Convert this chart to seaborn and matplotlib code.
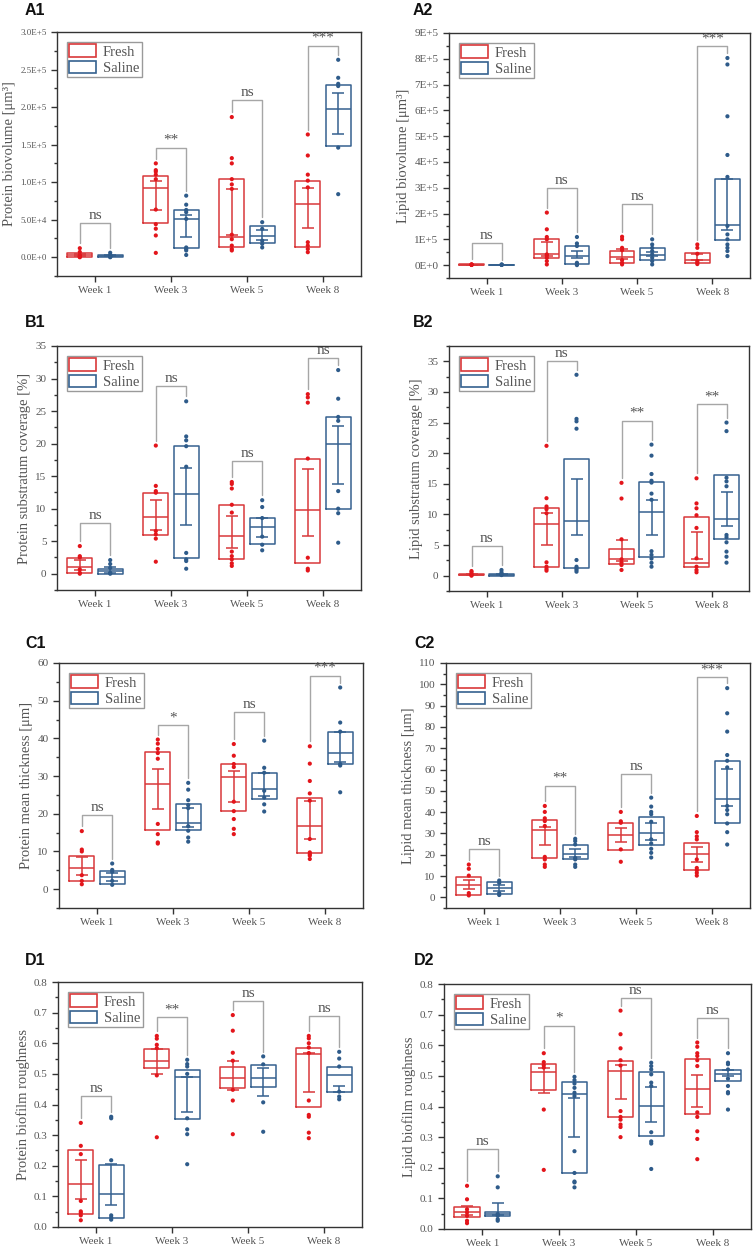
import numpy as np
import pandas as pd
import seaborn as sns
import matplotlib.pyplot as plt
from matplotlib.patches import Patch
from matplotlib.ticker import AutoMinorLocator

weeks = ["Week 1", "Week 3", "Week 5", "Week 8"]
groups = ["Fresh", "Saline"]

# box stats per week: [q1, median, q3, bar_low, bar_high]
# ---- A1 protein biovolume
a1_fresh = [[12000, 7000, 3000, 1200, 500, 0],
            [125000, 116000, 114000, 110000, 104000, 63500, 44000, 38000, 29000, 5800],
            [186700, 132000, 125000, 104000, 97000, 91000, 30000, 24000, 15500, 11000, 9000],
            [163500, 135500, 110000, 102000, 93000, 20000, 15500, 11000, 6700]]
a1_saline = [[6000, 3000, 2000, 1000, 500, 0],
             [82000, 70000, 63000, 60000, 51000, 13000, 11000, 9000, 3000],
             [46700, 37800, 22000, 17800, 13000],
             [263000, 239000, 231000, 228000, 146000, 84000]]
a1_fresh_box = [[900, 3000, 5800, 1500, 4500], [45000, 92000, 108000, 63500, 102000],
                [13300, 26700, 104000, 30000, 91000], [13300, 71000, 102000, 39000, 92400]]
a1_saline_box = [[900, 1800, 3100, 1000, 2500], [12000, 51000, 62700, 27500, 56000],
                 [19500, 28900, 41800, 23600, 36400], [148000, 197800, 230000, 163500, 218600]]
a1_sig = ["ns", "**", "ns", "***"]
a1_bar = [45300, 145800, 208900, 282000]
a1_ticks = [0, 50000, 100000, 150000, 200000, 250000, 300000]
a1_ticklabels = ["0.0E+0", "5.0E+4", "1.0E+5", "1.5E+5", "2.0E+5", "2.5E+5", "3.0E+5"]

# ---- A2 lipid biovolume
a2_fresh = [[3000, 2000, 1500, 1000, 500],
            [203600, 138800, 109000, 100000, 41500, 37600, 28500, 15600, 2600],
            [110000, 100000, 67000, 58000, 19500, 9000, 2600],
            [80000, 67000, 44000, 15600, 9000, 4000]]
a2_saline = [[2500, 1500, 1000, 500],
             [109000, 84000, 74000, 9000, 2600, 0],
             [100000, 80000, 67000, 54500, 41500, 28500, 15600, 2600],
             [803000, 778000, 577000, 427000, 342000, 152000, 119000, 100000, 80000, 67000, 54500, 35000]]
a2_fresh_box = [[500, 1500, 2500, 1000, 2000], [28500, 44000, 102500, 35000, 89500],
                [7800, 31000, 54500, 22000, 61000], [10000, 19500, 48000, 20000, 41500]]
a2_saline_box = [[300, 1000, 1800, 700, 1500], [5000, 36300, 74000, 26000, 55800],
                 [18000, 39000, 65000, 33700, 52000], [96000, 154000, 332000, 135000, 332000]]
a2_sig = ["ns", "ns", "ns", "***"]
a2_bar = [85600, 298000, 238600, 848000]
a2_ticks = [0, 100000, 200000, 300000, 400000, 500000, 600000, 700000, 800000, 900000]
a2_ticklabels = ["0E+0", "1E+5", "2E+5", "3E+5", "4E+5", "5E+5", "6E+5", "7E+5", "8E+5", "9E+5"]

# ---- B1 protein coverage
b1_fresh = [[4.25, 2.7, 2.5, 0.67, 0.15, 0.0],
            [19.7, 13.5, 12.7, 12.45, 6.56, 6.05, 5.4, 1.85],
            [14.1, 13.8, 13.1, 10.6, 9.4, 3.4, 2.7, 2.2, 1.6, 1.2],
            [27.6, 27.1, 26.3, 17.7, 2.46, 0.77, 0.5]]
b1_saline = [[2.1, 1.5, 0.9, 0.15, 0.0],
             [26.5, 21.1, 20.5, 19.6, 16.45, 3.2, 2.2, 1.95, 0.77],
             [11.3, 10.25, 8.56, 5.7, 4.46, 3.6],
             [31.3, 26.9, 24.1, 23.5, 12.7, 10.0, 9.3, 4.77]]
b1_fresh_box = [[0.05, 0.97, 2.4, 0.5, 2.1], [6.0, 8.76, 12.45, 6.77, 11.4],
                [2.2, 5.74, 10.56, 3.95, 8.87], [1.6, 9.74, 17.7, 5.74, 16.15]]
b1_saline_box = [[0.0, 0.36, 0.77, 0.15, 1.07], [2.36, 12.3, 19.7, 7.5, 16.3],
                 [4.5, 7.2, 8.56, 5.7, 8.56], [10.0, 20.0, 24.1, 13.8, 22.7]]
b1_sig = ["ns", "ns", "ns", "ns"]
b1_bar = [7.84, 28.9, 17.3, 33.2]

# ---- B2 lipid coverage
b2_fresh = [[0.76, 0.55, 0.27, 0.1, 0.0],
            [21.2, 12.65, 11.3, 10.85, 10.2, 2.18, 1.47, 1.1, 0.82],
            [15.16, 12.6, 5.94, 2.67, 2.13, 1.74, 0.93],
            [15.9, 11.8, 11.0, 9.87, 7.8, 2.83, 1.47, 0.93, 0.55]]
b2_saline = [[0.93, 0.55, 0.3, 0.1],
             [32.8, 25.6, 25.2, 24.0, 2.56, 1.47, 1.2, 0.93, 0.65],
             [21.4, 19.6, 16.6, 15.5, 15.2, 13.4, 12.4, 4.0, 3.4, 2.8, 2.1, 1.47],
             [25.0, 23.6, 16.0, 15.4, 14.6, 6.65, 6.27, 5.45, 3.93, 3.1, 2.13]]
b2_fresh_box = [[0.05, 0.16, 0.33, 0.1, 0.25], [1.47, 8.4, 11.1, 4.96, 10.2],
                [1.85, 2.67, 4.42, 2.4, 5.83], [1.36, 2.0, 9.65, 2.78, 7.1]]
b2_saline_box = [[0.03, 0.12, 0.25, 0.08, 0.2], [1.3, 8.9, 19.0, 6.6, 15.76],
                 [3.1, 10.36, 15.3, 6.6, 12.4], [6.05, 9.2, 16.36, 8.1, 13.6]]
b2_sig = ["ns", "ns", "**", "**"]
b2_bar = [4.85, 35.1, 25.3, 28.0]

# ---- C1 protein thickness
c1_fresh = [[15.4, 10.5, 10.0, 3.7, 2.2, 1.3],
            [39.7, 38.6, 37.2, 36.1, 34.6, 17.3, 14.6, 12.4, 12.1],
            [38.5, 35.4, 33.2, 32.4, 23.2, 20.7, 18.6, 16.0, 14.6],
            [37.9, 33.3, 28.7, 25.4, 23.5, 13.3, 9.75, 9.3, 8.9, 8.0]]
c1_saline = [[6.8, 5.1, 4.6, 2.2, 1.15],
             [28.2, 26.4, 23.6, 22.3, 21.5, 16.7, 15.5, 13.7, 12.6],
             [39.4, 32.2, 30.9, 26.1, 24.3, 22.5, 20.6],
             [53.5, 44.2, 41.8, 33.2, 32.8, 25.7]]
c1_fresh_box = [[2.1, 5.5, 8.9, 3.7, 8.5], [15.8, 27.9, 36.3, 21.2, 31.8],
                [20.7, 29.8, 33.1, 23.2, 31.3], [9.6, 16.8, 24.1, 13.4, 23.5]]
c1_saline_box = [[1.5, 3.2, 4.9, 2.1, 4.4], [15.8, 17.5, 22.5, 16.5, 21.5],
                 [23.9, 26.7, 30.9, 24.7, 30.8], [33.2, 36.1, 41.7, 33.7, 41.6]]
c1_sig = ["ns", "*", "ns", "***"]
c1_bar = [19.8, 43.5, 47.1, 56.6]

# ---- C2 lipid thickness
c2_fresh = [[15.4, 13.4, 10.2, 2.0, 0.9],
            [42.9, 40.1, 37.1, 35.8, 33.5, 19.0, 17.8, 15.4, 14.3],
            [40.1, 35.7, 35.0, 22.5, 16.7],
            [38.2, 30.6, 28.6, 27.2, 17.8, 13.8, 12.7, 11.5, 10.2]]
c2_saline = [[7.9, 6.8, 2.0, 1.1],
             [27.5, 26.4, 24.8, 18.5, 17.8, 15.4, 14.3],
             [46.8, 42.6, 40.1, 39.0, 35.5, 27.2, 25.3, 22.8, 20.9, 18.7],
             [98.2, 86.4, 77.8, 66.8, 64.1, 61.0, 42.9, 41.0, 39.0, 34.7, 30.6, 24.8]]
c2_fresh_box = [[1.1, 6.0, 9.4, 3.9, 8.2], [18.4, 31.7, 36.5, 24.4, 33.2],
                [22.3, 29.5, 35.0, 25.9, 32.4], [13.0, 20.4, 25.5, 16.5, 23.7]]
c2_saline_box = [[1.6, 4.2, 7.1, 3.1, 5.7], [18.2, 20.4, 24.8, 18.9, 22.8],
                 [24.5, 30.0, 37.7, 26.9, 34.7], [34.7, 46.2, 64.1, 43.1, 60.2]]
c2_sig = ["ns", "**", "ns", "***"]
c2_bar = [22.6, 52.5, 57.7, 103.4]

# ---- D1 protein roughness
d1_fresh = [[0.34, 0.265, 0.238, 0.085, 0.051, 0.046, 0.038, 0.022],
            [0.624, 0.615, 0.595, 0.584, 0.495, 0.293],
            [0.692, 0.641, 0.569, 0.543, 0.448, 0.413, 0.303],
            [0.624, 0.616, 0.6, 0.586, 0.568, 0.413, 0.366, 0.36, 0.308, 0.29]]
d1_saline = [[0.36, 0.355, 0.218, 0.038, 0.031, 0.024],
             [0.546, 0.532, 0.524, 0.5, 0.355, 0.319, 0.303, 0.205],
             [0.557, 0.531, 0.407, 0.311],
             [0.572, 0.55, 0.524, 0.442, 0.426, 0.417]]
d1_fresh_box = [[0.043, 0.14, 0.25, 0.09, 0.22], [0.519, 0.543, 0.582, 0.499, 0.582],
                [0.455, 0.485, 0.524, 0.447, 0.543], [0.391, 0.564, 0.586, 0.442, 0.568]]
d1_saline_box = [[0.031, 0.107, 0.204, 0.071, 0.207], [0.352, 0.49, 0.512, 0.376, 0.491],
                 [0.456, 0.485, 0.528, 0.428, 0.519], [0.441, 0.495, 0.524, 0.442, 0.462]]
d1_sig = ["ns", "**", "ns", "ns"]
d1_bar = [0.427, 0.685, 0.739, 0.69]

# ---- D2 lipid roughness
d2_fresh = [[0.141, 0.097, 0.064, 0.054, 0.043, 0.027, 0.019],
            [0.574, 0.545, 0.535, 0.527, 0.39, 0.193],
            [0.713, 0.636, 0.59, 0.551, 0.534, 0.385, 0.366, 0.357, 0.341, 0.333, 0.3],
            [0.609, 0.595, 0.574, 0.565, 0.551, 0.532, 0.381, 0.366, 0.319, 0.294, 0.228]]
d2_saline = [[0.172, 0.136, 0.049, 0.043, 0.032, 0.027],
             [0.497, 0.486, 0.475, 0.461, 0.445, 0.434, 0.254, 0.183, 0.155, 0.152, 0.136],
             [0.543, 0.532, 0.521, 0.505, 0.478, 0.467, 0.316, 0.286, 0.279, 0.196],
             [0.574, 0.543, 0.538, 0.521, 0.491, 0.467, 0.447, 0.443, 0.39]]
d2_fresh_box = [[0.038, 0.057, 0.071, 0.046, 0.075], [0.454, 0.513, 0.54, 0.445, 0.527],
                [0.365, 0.515, 0.549, 0.425, 0.534], [0.377, 0.456, 0.556, 0.398, 0.502]]
d2_saline_box = [[0.044, 0.049, 0.057, 0.046, 0.084], [0.183, 0.44, 0.479, 0.3, 0.428],
                 [0.303, 0.401, 0.513, 0.35, 0.463], [0.482, 0.505, 0.52, 0.5, 0.519]]
d2_sig = ["ns", "*", "ns", "ns"]
d2_bar = [0.261, 0.663, 0.753, 0.69]

sns.set_style("ticks")
plt.rcParams["font.family"] = ["Liberation Serif", "DejaVu Serif"]
plt.rcParams["axes.linewidth"] = 1.0

box_colors = {"Fresh": "#d9383a", "Saline": "#35618f"}
point_colors = {"Fresh": "#e3151b", "Saline": "#2e5b8a"}
gray_txt = "#555555"

W, H = 756, 1250
fig = plt.figure(figsize=(W / 100, H / 100), dpi=100)


def px_axes(left, top, right, bottom):
    return fig.add_axes([left / W, 1 - bottom / H, (right - left) / W, (bottom - top) / H])


def draw_panel(ax, fresh, saline, fresh_box, saline_box, sig, bar, ylim, ticks, ticklabels,
               ylabel, ytick_size):
    rows = []
    for g, series in zip(groups, [fresh, saline]):
        for wk, vals in zip(weeks, series):
            for v in vals:
                rows.append({"week": wk, "group": g, "value": v})
    df = pd.DataFrame(rows)

    sns.stripplot(data=df, x="week", y="value", hue="group", order=weeks, hue_order=groups,
                  dodge=True, jitter=False, palette=point_colors, size=3.0, linewidth=0,
                  legend=False, ax=ax, zorder=4)

    for g, boxes, off in [("Fresh", fresh_box, -0.2), ("Saline", saline_box, 0.2)]:
        col = box_colors[g]
        pos = [i + off for i in range(len(weeks))]
        stats = [dict(q1=b[0], med=b[1], q3=b[2], whislo=b[0], whishi=b[2], fliers=[]) for b in boxes]
        ax.bxp(stats, positions=pos, widths=0.33, showcaps=False, showfliers=False,
               boxprops=dict(color=col, lw=1.1), medianprops=dict(color=col, lw=1.1),
               whiskerprops=dict(lw=0), manage_ticks=False, zorder=3)
        lo = np.array([b[3] for b in boxes])
        hi = np.array([b[4] for b in boxes])
        ax.errorbar(pos, (lo + hi) / 2, yerr=(hi - lo) / 2, fmt="none", ecolor=col,
                    elinewidth=1.1, capsize=4.3, capthick=1.1, zorder=3)

    span = ylim[1] - ylim[0]
    for i in range(len(weeks)):
        f_top = max(fresh[i]) + 0.02 * span
        s_top = max(saline[i]) + 0.02 * span
        ax.plot([i - 0.2, i - 0.2, i + 0.2, i + 0.2], [f_top, bar[i], bar[i], s_top],
                color="#a6a6a6", lw=1.0, zorder=2)
        ax.text(i, bar[i] + 0.004 * span, sig[i], ha="center", va="bottom",
                fontsize=11, color=gray_txt)

    ax.set_xlim(-0.5, 3.5)
    ax.set_ylim(*ylim)
    if ticklabels is not None:
        ax.set_yticks(ticks, ticklabels)
    else:
        ax.set_yticks(ticks)
    ax.yaxis.set_minor_locator(AutoMinorLocator(2))
    ax.tick_params(axis="both", which="major", direction="out", length=4, width=1,
                   labelsize=8, labelcolor=gray_txt, color="#333333")
    ax.tick_params(axis="y", labelsize=ytick_size)
    ax.tick_params(axis="y", which="minor", direction="out", length=2.5, width=1, color="#333333")
    ax.set_xlabel("")
    ax.set_ylabel(ylabel, fontsize=10.5, color=gray_txt, labelpad=3)
    for s in ax.spines.values():
        s.set_visible(True)
        s.set_color("#333333")

    handles = [Patch(facecolor="none", edgecolor=box_colors[g], lw=1.2, label=g) for g in groups]
    leg = ax.legend(handles=handles, loc="upper left", fontsize=10.5, frameon=True, fancybox=False,
                    edgecolor="#9a9a9a", framealpha=1, handlelength=1.8, handleheight=0.95,
                    labelspacing=0.15, borderpad=0.15, handletextpad=0.5, borderaxespad=0.7)
    leg.get_frame().set_linewidth(1.0)
    for t in leg.get_texts():
        t.set_color(gray_txt)


panels = [
    ("A1", (25, 15), (57, 32, 361, 276), a1_fresh, a1_saline, a1_fresh_box, a1_saline_box, a1_sig, a1_bar,
     (-25000, 300000), a1_ticks, a1_ticklabels, "Protein biovolume [μm³]", 6.5),
    ("A2", (413, 15), (449, 33, 750, 278), a2_fresh, a2_saline, a2_fresh_box, a2_saline_box, a2_sig, a2_bar,
     (-50000, 900000), a2_ticks, a2_ticklabels, "Lipid biovolume [μm³]", 8),
    ("B1", (25, 327), (57, 346, 361, 590), b1_fresh, b1_saline, b1_fresh_box, b1_saline_box, b1_sig, b1_bar,
     (-2.5, 35), list(range(0, 36, 5)), None, "Protein substratum coverage [%]", 8),
    ("B2", (413, 327), (449, 346, 749, 591), b2_fresh, b2_saline, b2_fresh_box, b2_saline_box, b2_sig, b2_bar,
     (-2.5, 37.5), list(range(0, 36, 5)), None, "Lipid substratum coverage [%]", 8),
    ("C1", (25, 648), (59, 663, 363, 908), c1_fresh, c1_saline, c1_fresh_box, c1_saline_box, c1_sig, c1_bar,
     (-5, 60), list(range(0, 61, 10)), None, "Protein mean thickness [μm]", 8),
    ("C2", (414, 648), (446, 663, 750, 908), c2_fresh, c2_saline, c2_fresh_box, c2_saline_box, c2_sig, c2_bar,
     (-5, 110), list(range(0, 111, 10)), None, "Lipid mean thickness [μm]", 8),
    ("D1", (25, 965), (58, 982, 362, 1227), d1_fresh, d1_saline, d1_fresh_box, d1_saline_box, d1_sig, d1_bar,
     (0, 0.8), [0, 0.1, 0.2, 0.3, 0.4, 0.5, 0.6, 0.7, 0.8], None, "Protein biofilm roughness", 8),
    ("D2", (414, 965), (444, 984, 751, 1229), d2_fresh, d2_saline, d2_fresh_box, d2_saline_box, d2_sig, d2_bar,
     (0, 0.8), [0, 0.1, 0.2, 0.3, 0.4, 0.5, 0.6, 0.7, 0.8], None, "Lipid biofilm roughness", 8),
]

for p in panels:
    label, (lx, ly), rect = p[0], p[1], p[2]
    ax = px_axes(*rect)
    draw_panel(ax, *p[3:])
    fig.text(lx / W, 1 - ly / H, label, fontsize=11.5, fontweight="bold",
             family=["Liberation Sans", "DejaVu Sans"], ha="left", va="baseline", color="#111111")

fig.savefig("out.png", dpi=100)
